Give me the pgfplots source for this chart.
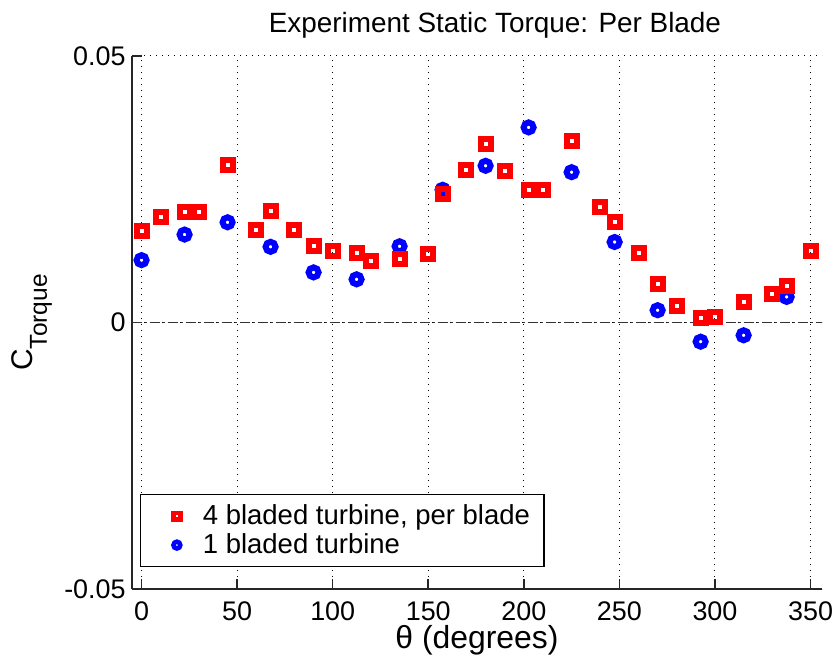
\documentclass[border=0pt]{standalone}
\usepackage{fontspec}
\setmainfont{Liberation Sans}
\usepackage{pgfplots}
\pgfplotsset{compat=1.18}

\begin{document}
\begin{tikzpicture}
\begin{axis}[
    scale only axis,
    width=345bp, height=266.5bp,
    xmin=-5, xmax=356,
    ymin=-0.05, ymax=0.05,
    axis x line=bottom, axis y line=left,
    axis line style={-, black!85, line width=0.8bp},
    xtick={0,50,...,350},
    ytick={-0.05,0,0.05},
    yticklabels={-0.05,0,0.05},
    scaled y ticks=false,
    tick align=inside,
    major tick length=5bp,
    tick style={black!85, line width=0.8bp},
    /pgf/number format/assume math mode=true,
    ticklabel style={font=\fontsize{13.5}{15}\selectfont},
    xticklabel style={anchor=base, yshift=-15.5bp, inner sep=0pt},
    yticklabel style={anchor=east, inner sep=0pt, xshift=-3bp},
    grid=major,
    major grid style={black, line width=0.5bp, dash pattern=on 0.6bp off 2.4bp},
    title={Experiment Static Torque: Per Blade},
    title style={font=\fontsize{14}{16}\selectfont, at={(rel axis cs:0.526,1)}, anchor=base, yshift=6bp},
    xlabel={θ (degrees)},
    xlabel style={font=\fontsize{16}{18}\selectfont, at={(rel axis cs:0.5,0)}, anchor=base, yshift=-29.5bp},
    ylabel={C\raisebox{-7bp}{\fontsize{12.3}{14}\selectfont Torque}},
    ylabel style={font=\fontsize{15}{17}\selectfont, at={(rel axis cs:-0.1435,0.5)}, anchor=base},
    reverse legend,
    legend style={at={(rel axis cs:0.012,0.041)}, anchor=south west,
        draw=black, line width=0.6bp, fill=white,
        font=\fontsize{13.8}{16}\selectfont,
        row sep=-1bp, inner xsep=5bp, inner ysep=3bp},
    legend cell align=left,
    legend image code/.code={
        \path[draw=none, fill=none] (0bp,-4bp) rectangle (24bp,4bp);
        \draw[#1, mark size=1.7bp, line width=2.3bp] plot coordinates {(13bp,0bp)};
    },
]
% zero reference line
\addplot [black!80, line width=0.8bp, dash pattern=on 5bp off 1.5bp on 1bp off 1.5bp, forget plot]
    coordinates {(-5,0) (356,0)};

\addplot [only marks, mark=o, color=blue, mark size=2.5bp, line width=3bp]
    coordinates {
    (0, 0.0117) (22.5, 0.0165) (45, 0.0188) (67.5, 0.0142)
    (90, 0.0094) (112.5, 0.0081) (135, 0.0143) (157.5, 0.0249)
    (180, 0.0294) (202.5, 0.0366) (225, 0.0282) (247.5, 0.0151)
    (270, 0.0023) (292.5, -0.0036) (315, -0.0024) (337.5, 0.0048)
};
\addlegendentry{1 bladed turbine}

\addplot [only marks, mark=square, color=red, mark size=2.5bp, line width=3bp]
    coordinates {
    (0, 0.0171) (10, 0.0197) (22.5, 0.0207) (30, 0.0207)
    (45, 0.0296) (60, 0.0173) (67.5, 0.0209) (80, 0.0174)
    (90, 0.0143) (100, 0.0135) (112.5, 0.0130) (120, 0.0116)
    (135, 0.0120) (150, 0.0128) (157.5, 0.0241) (170, 0.0287)
    (180, 0.0334) (190, 0.0285) (202.5, 0.0249) (210, 0.0249)
    (225, 0.0341) (240, 0.0217) (247.5, 0.0189) (260, 0.0130)
    (270, 0.0072) (280, 0.0031) (292.5, 0.0008) (300, 0.0011)
    (315, 0.0039) (330, 0.0054) (337.5, 0.0069) (350, 0.0135)
};
\addlegendentry{4 bladed turbine, per blade}
\end{axis}
\pgfresetboundingbox
\useasboundingbox ([shift={(-66bp,-36bp)}]current axis.south west) rectangle ([shift={(7.5bp,28bp)}]current axis.north east);
\end{tikzpicture}
\end{document}
